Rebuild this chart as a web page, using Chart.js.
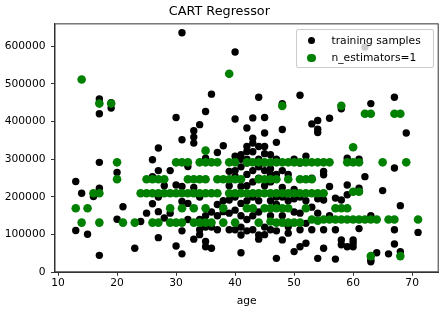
<!DOCTYPE html>
<html>
<head>
<meta charset="utf-8">
<script src="https://cdn.jsdelivr.net/npm/chart.js@4"></script>
<style>
  body { margin: 0; background: #fff; }
  #wrap { position: relative; width: 444px; height: 313px; }
  #legend {
    position: absolute; left: 296px; top: 29px; width: 138px; height: 39px;
    box-sizing: border-box; border: 1px solid #cccccc; border-radius: 2px;
    background: rgba(255, 255, 255, 0.8);
    font: 10.7px "DejaVu Sans"; color: #000;
  }
  #legend .row { position: absolute; left: 0; height: 14px; line-height: 14px; white-space: nowrap; }
  #legend .dot { position: absolute; border-radius: 50%; }
  #legend .txt { position: absolute; left: 34.5px; top: 0; }
</style>
</head>
<body>
<div id="wrap">
  <canvas id="cartChart" width="444" height="313"></canvas>
  <div id="legend"></div>
</div>
<script>
// training samples (age, income)
const trainAge = [
  13, 13, 14, 15, 16,
  17, 17, 17, 17, 17, 17,
  19, 19, 20, 20, 21, 23, 24, 25,
  26, 26, 26, 27, 27, 27, 27, 27, 28, 28, 29, 29,
  30, 30, 30, 31, 31, 31, 31, 31, 31, 32, 32, 32,
  33, 33, 33, 33, 33, 34, 34, 34, 34, 34, 35, 35, 35, 35, 35, 35,
  36, 36, 36, 36, 37, 37, 37, 37, 38, 38, 38, 39, 39, 39, 39, 39,
  40, 40, 40, 40, 40, 40, 40, 40, 41, 41, 41, 41, 41, 41, 41, 41, 41,
  42, 42, 42, 42, 42, 42, 42, 42, 42, 42, 43, 43, 43, 43, 43, 43, 43, 43, 43,
  44, 44, 44, 44, 44, 44, 44, 44, 44, 45, 45, 45, 45, 45, 45, 45, 45, 45,
  46, 46, 46, 46, 46, 46, 46, 46, 47, 47, 47, 47, 47, 47, 47,
  48, 48, 48, 48, 48, 48, 48, 49, 49, 49, 49, 49, 50, 50, 50, 50, 50,
  51, 51, 51, 51, 51, 51, 52, 52, 52, 52, 53, 53, 53, 53,
  54, 54, 54, 54, 54, 54, 55, 55, 55, 55, 55, 56, 56, 56,
  57, 57, 57, 58, 58, 58, 58, 59, 59, 59, 59, 60, 60, 60,
  61, 61, 61, 62, 62, 63, 63, 63, 63, 64, 65, 66,
  67, 67, 67, 67, 68, 68, 69, 71
];
const trainIncome = [
  241000, 111000, 210000, 101000, 201000,
  460000, 450000, 421000, 292000, 223000, 45000,
  436000, 450000, 265000, 141000, 174000, 64000, 135000, 157000,
  299000, 254000, 182000, 330000, 270000, 161000, 92000, 200000, 144000, 230000, 270000, 157000,
  411000, 232000, 70000, 636000, 352000, 228000, 188000, 110000, 49000, 281000, 183000, 140000,
  376000, 359000, 343000, 225000, 88000, 392000, 200000, 140000, 113000, 100000, 427000, 303000, 150000, 120000, 82000, 68000,
  473000, 160000, 120000, 64000, 318000, 180000, 150000, 113000, 336000, 190000, 161000, 268000, 192000, 157000, 113000, 230000,
  585000, 407000, 308000, 270000, 200000, 165000, 113000, 255000, 312000, 300000, 228000, 183000, 150000, 120000, 99000, 52000, 280000,
  383000, 334000, 321000, 290000, 260000, 230000, 190000, 140000, 110000, 300000, 410000, 356000, 343000, 270000, 240000, 200000, 150000, 113000, 320000,
  465000, 334000, 280000, 250000, 190000, 160000, 99000, 88000, 300000, 411000, 370000, 334000, 315000, 290000, 230000, 120000, 100000, 270000,
  312000, 275000, 240000, 190000, 170000, 113000, 260000, 150000, 345000, 300000, 260000, 180000, 37000, 200000, 110000,
  448000, 379000, 225000, 200000, 86000, 150000, 270000, 260000, 190000, 170000, 121000, 104000, 220000, 195000, 160000, 55000, 300000,
  470000, 290000, 200000, 157000, 113000, 68000, 308000, 190000, 77000, 130000, 394000, 250000, 173000, 113000,
  403000, 380000, 371000, 195000, 157000, 37000, 268000, 259000, 192000, 113000, 64000, 409000, 228000, 150000,
  197000, 113000, 35000, 434000, 192000, 86000, 73000, 303000, 232000, 206000, 68000, 86000, 68000, 78000,
  300000, 223000, 116000, 598000, 254000, 448000, 150000, 33000, 28000, 52000, 217000, 49000,
  465000, 277000, 113000, 75000, 177000, 55000, 370000, 106000
];

// tree predictions (n_estimators=1)
const predAge = [
  13, 14, 14, 15, 16, 17, 17, 17, 19, 20, 20, 21, 23, 24, 25, 25,
  26, 26, 26, 27, 27, 27, 28, 28, 29, 29, 29, 30, 30, 30,
  31, 31, 31, 31, 32, 32, 32, 33, 33, 33, 33, 34, 34, 34, 34,
  35, 35, 35, 35, 35, 35, 36, 36, 36, 37, 37, 37, 38, 38, 38,
  39, 39, 39, 39, 40, 40, 40, 40, 41, 41, 42, 42, 42, 43, 43, 43,
  44, 44, 44, 44, 45, 45, 45, 45, 46, 46, 46, 46, 46,
  47, 47, 47, 47, 47, 48, 48, 48, 48, 48, 49, 49, 49, 49, 49,
  50, 50, 50, 51, 51, 51, 51, 52, 52, 52, 52, 53, 53, 53, 53,
  54, 54, 54, 55, 55, 55, 56, 56, 57, 57, 58, 58, 58, 59, 59, 59,
  60, 60, 60, 60, 61, 61, 61, 62, 62, 63, 63, 63, 64, 65, 66,
  67, 67, 68, 68, 69, 71
];
const predIncome = [
  170000, 512000, 132000, 170000, 210000, 448000, 210000, 132000, 448000, 292000, 247000, 132000, 132000, 210000, 247000, 210000,
  247000, 210000, 132000, 247000, 210000, 132000, 247000, 210000, 210000, 170000, 132000, 292000, 210000, 132000,
  292000, 210000, 170000, 132000, 292000, 247000, 210000, 247000, 210000, 170000, 132000, 292000, 247000, 210000, 132000,
  323000, 292000, 247000, 210000, 170000, 132000, 292000, 210000, 132000, 292000, 247000, 210000, 247000, 170000, 132000,
  527000, 292000, 247000, 210000, 292000, 247000, 210000, 132000, 247000, 210000, 292000, 210000, 170000, 292000, 210000, 170000,
  292000, 247000, 210000, 132000, 292000, 247000, 210000, 170000, 292000, 247000, 210000, 170000, 135000,
  292000, 247000, 210000, 170000, 132000, 442000, 292000, 210000, 170000, 132000, 292000, 247000, 210000, 170000, 132000,
  292000, 210000, 132000, 292000, 247000, 210000, 132000, 292000, 247000, 210000, 170000, 292000, 247000, 210000, 140000,
  292000, 210000, 137000, 292000, 210000, 140000, 292000, 140000, 170000, 140000, 442000, 170000, 140000, 292000, 170000, 140000,
  332000, 292000, 214000, 140000, 292000, 214000, 140000, 421000, 140000, 421000, 140000, 43000, 140000, 292000, 140000,
  421000, 140000, 421000, 43000, 292000, 140000
];

const xTicks = [10, 20, 30, 40, 50, 60, 70];
const yTicks = [0, 100000, 200000, 300000, 400000, 500000, 600000];

const seriesNames = ['training samples', 'n_estimators=1'];
const seriesColors = ['black', 'green'];
const pointRadii = [3.7, 4.3];

const FONT = 'DejaVu Sans';

function toPoints(xs, ys) {
  return xs.map((x, i) => ({ x: x, y: ys[i] }));
}

// box round the whole axes, like matplotlib
const framePlugin = {
  id: 'frame',
  afterDraw(chart) {
    const c = chart.ctx;
    const a = chart.chartArea;
    c.save();
    c.strokeStyle = '#333';
    c.lineWidth = 1;
    c.strokeRect(a.left + 0.5, a.top + 0.5, a.right - a.left - 1, a.bottom - a.top - 1);
    c.restore();
  }
};

const ctx = document.getElementById('cartChart').getContext('2d');
const chart = new Chart(ctx, {
  type: 'scatter',
  data: {
    datasets: [{
      label: seriesNames[0],
      data: toPoints(trainAge, trainIncome),
      backgroundColor: seriesColors[0],
      borderWidth: 0,
      pointRadius: pointRadii[0],
      order: 2
    }, {
      label: seriesNames[1],
      data: toPoints(predAge, predIncome),
      backgroundColor: seriesColors[1],
      borderWidth: 0,
      pointRadius: pointRadii[1],
      order: 1
    }]
  },
  options: {
    responsive: false,
    animation: false,
    devicePixelRatio: 1,
    layout: { padding: { left: 0, right: 5.3, top: 0, bottom: 0 } },
    plugins: {
      legend: { display: false },
      tooltip: { enabled: false },
      title: {
        display: true,
        text: 'CART Regressor',
        color: '#000',
        font: { family: FONT, size: 12.8, weight: 'normal' },
        padding: { top: 4, bottom: 4 }
      }
    },
    scales: {
      x: {
        type: 'linear',
        min: 9.4,
        max: 74.5,
        afterFit: s => { s.height = 40.7; },
        afterBuildTicks: s => { s.ticks = xTicks.map(v => ({ value: v })); },
        grid: { display: true, drawOnChartArea: false, drawTicks: true, tickLength: 3.5, color: '#333' },
        border: { display: true, color: '#333' },
        ticks: { color: '#000', padding: 1, font: { family: FONT, size: 10.7 } },
        title: {
          display: true,
          text: 'age',
          color: '#000',
          font: { family: FONT, size: 10.7 },
          padding: { top: 0, bottom: 4.9 }
        }
      },
      y: {
        type: 'linear',
        min: 0,
        max: 661000,
        afterFit: s => { s.width = 54.5; },
        afterBuildTicks: s => { s.ticks = yTicks.map(v => ({ value: v })); },
        grid: { display: true, drawOnChartArea: false, drawTicks: true, tickLength: 3.5, color: '#333' },
        border: { display: true, color: '#333' },
        ticks: {
          color: '#000',
          padding: 5.5,
          font: { family: FONT, size: 10.7 },
          callback: v => String(v)
        }
      }
    }
  },
  plugins: [framePlugin]
});

// legend sits over the plot with a see-through white box (framealpha 0.8)
const legendEl = document.getElementById('legend');
chart.data.datasets.forEach((ds, i) => {
  const row = document.createElement('div');
  row.className = 'row';
  row.style.top = (3.5 + i * 17.4) + 'px';
  row.style.width = '100%';
  const r = pointRadii[i];
  const dot = document.createElement('span');
  dot.className = 'dot';
  dot.style.width = dot.style.height = (2 * r) + 'px';
  dot.style.left = (14.7 - r) + 'px';
  dot.style.top = (7 - r) + 'px';
  dot.style.background = ds.backgroundColor;
  const txt = document.createElement('span');
  txt.className = 'txt';
  txt.textContent = ds.label;
  row.appendChild(dot);
  row.appendChild(txt);
  legendEl.appendChild(row);
});
</script>
</body>
</html>
